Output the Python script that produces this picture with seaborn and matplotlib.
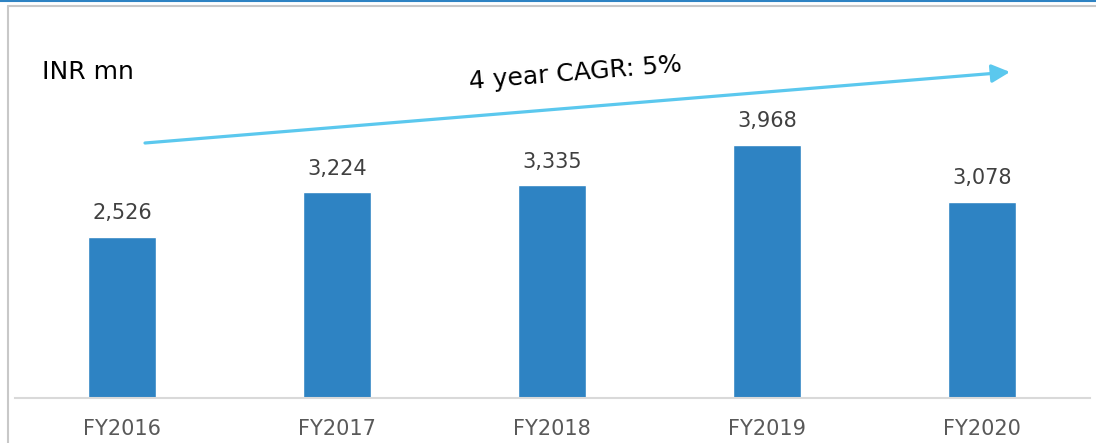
import matplotlib
matplotlib.use("Agg")
import matplotlib.pyplot as plt
import seaborn as sns
import pandas as pd
from matplotlib.lines import Line2D

years = ["FY2016", "FY2017", "FY2018", "FY2019", "FY2020"]
revenue = [2526, 3224, 3335, 3968, 3078]

sns.set_style("white")
plt.rcParams['font.family'] = ['DejaVu Sans']

df = pd.DataFrame({"year": years, "revenue": revenue})

fig = plt.figure(figsize=(10.96, 4.43), dpi=100)
ax = fig.add_axes([14.5 / 1096, 45 / 443, 1075 / 1096, 393 / 443])

sns.barplot(data=df, x="year", y="revenue", color="#2e83c3", saturation=1,
            width=0.315, ax=ax)
ax.set_xlim(-0.5, 4.5)
ax.set_ylim(0, 6160)

# value labels
for i, v in enumerate(revenue):
    ax.annotate(f"{v:,}", (i, v), xytext=(0, 17), textcoords="offset points",
                ha="center", va="center", fontsize=15, color="#404040")

for s in ["top", "right", "left"]:
    ax.spines[s].set_visible(False)
ax.spines["bottom"].set_color("#d9d9d9")
ax.spines["bottom"].set_linewidth(1.5)
ax.set_yticks([])
ax.set_xlabel("")
ax.set_ylabel("")
ax.tick_params(axis="x", length=0, pad=15, labelsize=15, labelcolor="#595959")

# CAGR arrow
ax.annotate("", xy=(1010 / 1096, 1 - 72 / 443), xytext=(145 / 1096, 1 - 143 / 443),
            xycoords="figure fraction", textcoords="figure fraction",
            arrowprops=dict(arrowstyle="-|>,head_length=1.1,head_width=0.55",
                            color="#5bc8ee", lw=2.3, shrinkA=0, shrinkB=0))
fig.text(575 / 1096, 1 - 73 / 443, "4 year CAGR: 5%", rotation=4.7,
         ha="center", va="center", fontsize=18, color="black",
         rotation_mode="anchor")
fig.text(42 / 1096, 1 - 72 / 443, "INR mn", ha="left", va="center",
         fontsize=18, color="black")

# frame lines
fig.add_artist(Line2D([0, 1], [1 - 0.5 / 443, 1 - 0.5 / 443], color="#2e83c3", lw=1.5))
fig.add_artist(Line2D([8 / 1096, 1], [1 - 5.5 / 443, 1 - 5.5 / 443], color="#c8c8c8", lw=1.5))
fig.add_artist(Line2D([8 / 1096, 8 / 1096], [0, 1 - 5.5 / 443], color="#c8c8c8", lw=1.5))

fig.savefig("out.png", dpi=100)
